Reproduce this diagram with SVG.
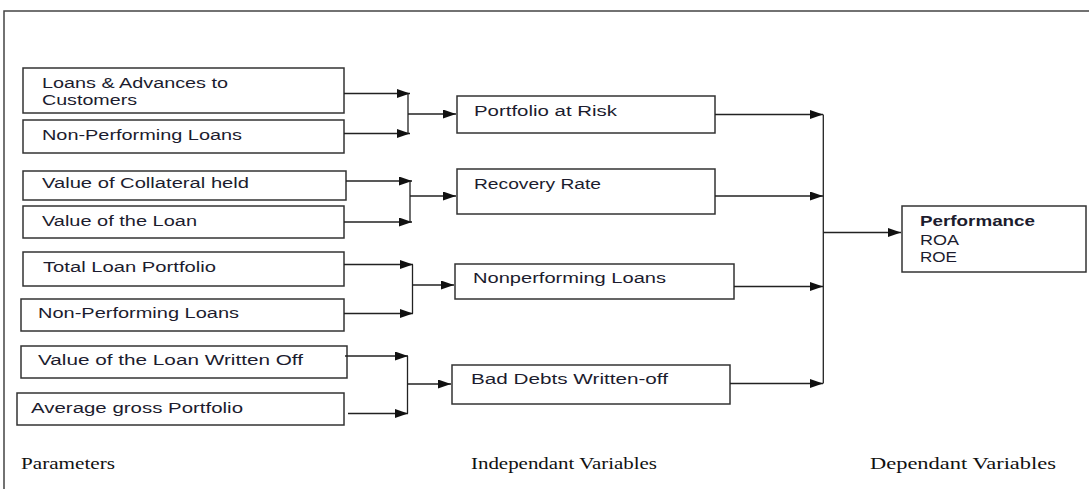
<svg xmlns="http://www.w3.org/2000/svg" width="1089" height="489" viewBox="0 0 1089 489">
<style>
.box{fill:#fff;stroke:#333;stroke-width:1.5}
.t{font-family:"Liberation Sans",Arial,sans-serif;font-size:14px;fill:#1c1c2e}
.b{font-weight:bold}
.s{font-family:"Liberation Serif","Times New Roman",serif;font-size:16px;fill:#111}
.c{fill:none;stroke:#222;stroke-width:1.3}
.a{marker-end:url(#ah)}
</style>
<defs>
<marker id="ah" markerUnits="userSpaceOnUse" markerWidth="13" markerHeight="9" refX="13" refY="4.5" orient="auto">
<path d="M0,0 L13,4.5 L0,9 Z" fill="#111"/>
</marker>
</defs>
<rect width="1089" height="489" fill="#fff"/>
<g id="frame"><path d="M4,489 V11 H1089" fill="none" stroke="#444" stroke-width="1.5"/></g>

<g id="p1"><rect class="box" x="23" y="68" width="321" height="45"/>
<text class="t" x="42" y="88" textLength="186" lengthAdjust="spacingAndGlyphs">Loans &amp; Advances to</text>
<text class="t" x="42" y="105" textLength="95" lengthAdjust="spacingAndGlyphs">Customers</text></g>
<g id="p2"><rect class="box" x="23" y="120" width="321" height="33"/>
<text class="t" x="42" y="140" textLength="200" lengthAdjust="spacingAndGlyphs">Non-Performing Loans</text></g>
<g id="p3"><rect class="box" x="23" y="171" width="323" height="29"/>
<text class="t" x="42" y="188" textLength="207" lengthAdjust="spacingAndGlyphs">Value of Collateral held</text></g>
<g id="p4"><rect class="box" x="23" y="206" width="321" height="32"/>
<text class="t" x="42" y="226" textLength="155" lengthAdjust="spacingAndGlyphs">Value of the Loan</text></g>
<g id="p5"><rect class="box" x="23" y="252" width="321" height="34"/>
<text class="t" x="43" y="272" textLength="173" lengthAdjust="spacingAndGlyphs">Total Loan Portfolio</text></g>
<g id="p6"><rect class="box" x="21" y="299" width="323" height="32"/>
<text class="t" x="38" y="318" textLength="201" lengthAdjust="spacingAndGlyphs">Non-Performing Loans</text></g>
<g id="p7"><rect class="box" x="21" y="346" width="326" height="32"/>
<text class="t" x="38" y="365" textLength="265" lengthAdjust="spacingAndGlyphs">Value of the Loan Written Off</text></g>
<g id="p8"><rect class="box" x="17" y="393" width="327" height="32"/>
<text class="t" x="31" y="413" textLength="212" lengthAdjust="spacingAndGlyphs">Average gross Portfolio</text></g>

<g id="i1"><rect class="box" x="457" y="96" width="258" height="37"/>
<text class="t" x="474" y="116" textLength="143" lengthAdjust="spacingAndGlyphs">Portfolio at Risk</text></g>
<g id="i2"><rect class="box" x="457" y="169" width="258" height="45"/>
<text class="t" x="474" y="189" textLength="127" lengthAdjust="spacingAndGlyphs">Recovery Rate</text></g>
<g id="i3"><rect class="box" x="455" y="264" width="279" height="35"/>
<text class="t" x="473" y="283" textLength="193" lengthAdjust="spacingAndGlyphs">Nonperforming Loans</text></g>
<g id="i4"><rect class="box" x="452" y="365" width="278" height="39"/>
<text class="t" x="471" y="384" textLength="197" lengthAdjust="spacingAndGlyphs">Bad Debts Written-off</text></g>

<g id="perf"><rect class="box" x="902" y="206" width="184" height="66"/>
<text class="t b" x="920" y="226" textLength="115" lengthAdjust="spacingAndGlyphs">Performance</text>
<text class="t" x="920" y="245" textLength="39" lengthAdjust="spacingAndGlyphs">ROA</text>
<text class="t" x="920" y="262" textLength="37" lengthAdjust="spacingAndGlyphs">ROE</text></g>

<g id="labels">
<text class="s" x="21" y="469" textLength="94" lengthAdjust="spacingAndGlyphs">Parameters</text>
<text class="s" x="471" y="469" textLength="186" lengthAdjust="spacingAndGlyphs">Independant Variables</text>
<text class="s" x="870" y="469" textLength="186" lengthAdjust="spacingAndGlyphs">Dependant Variables</text>
</g>

<g id="connectors">
<path class="c a" d="M344,93.5 H410"/>
<path class="c a" d="M344,133.5 H410"/>
<path class="c" d="M408,93.5 V133.5"/>
<path class="c a" d="M408,114 H456"/>

<path class="c a" d="M346,181 H412"/>
<path class="c a" d="M344,222 H412"/>
<path class="c" d="M410,181 V222"/>
<path class="c a" d="M410,196 H456"/>

<path class="c a" d="M344,264.5 H413"/>
<path class="c a" d="M344,313.5 H413"/>
<path class="c" d="M412.5,264.5 V313.5"/>
<path class="c a" d="M412.5,285 H454"/>

<path class="c a" d="M345,356 H408"/>
<path class="c a" d="M348,413.5 H408"/>
<path class="c" d="M407.5,356 V413.5"/>
<path class="c a" d="M407.5,384 H451"/>

<path class="c a" d="M715,114.5 H823"/>
<path class="c a" d="M715,196 H823"/>
<path class="c a" d="M734,286.5 H823"/>
<path class="c a" d="M730,383.5 H823"/>
<path class="c" d="M823.3,114.5 V383.5"/>
<path class="c a" d="M823.3,232.5 H901"/>
</g>
</svg>
